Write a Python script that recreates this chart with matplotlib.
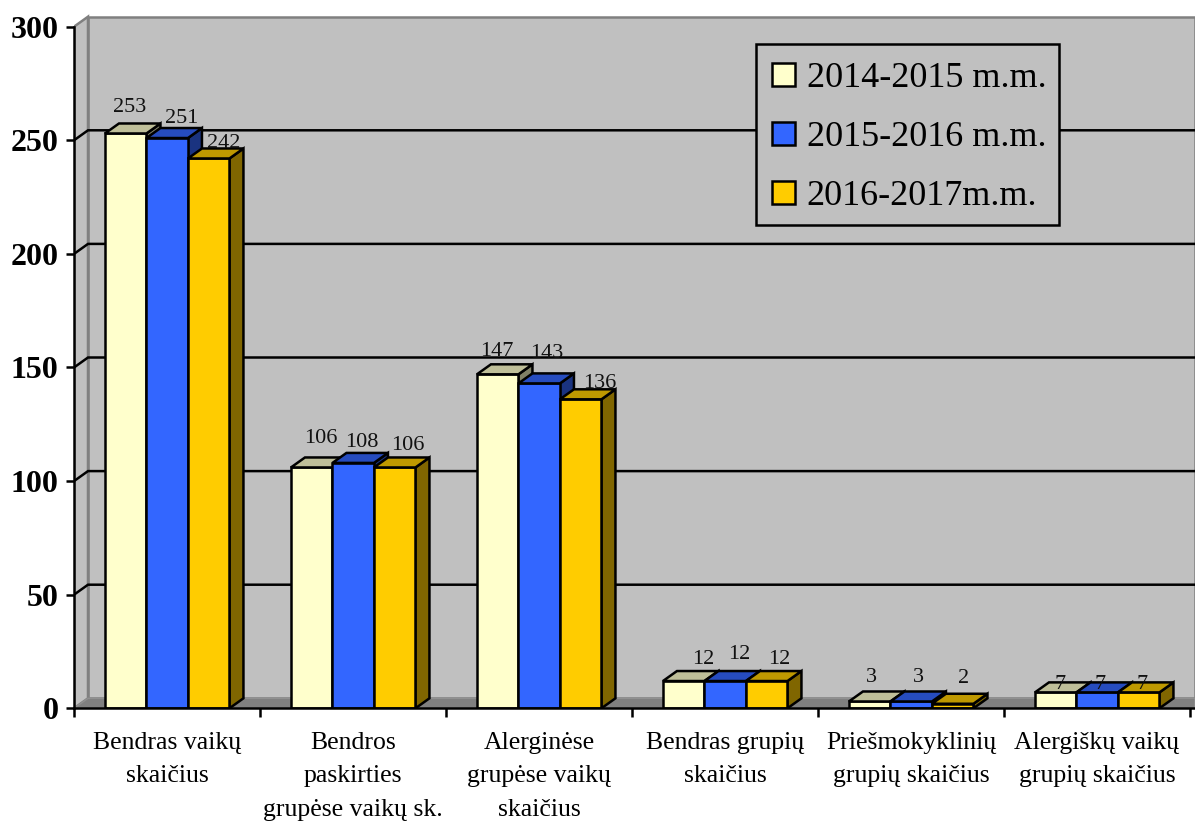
import matplotlib
matplotlib.use('Agg')
import matplotlib.pyplot as plt
from matplotlib.patches import Polygon, Rectangle

plt.rcParams['font.family'] = ['Liberation Serif', 'DejaVu Sans']

categories = ['Bendras vaikų\nskaičius',
              'Bendros\npaskirties\ngrupėse vaikų sk.',
              'Alerginėse\ngrupėse vaikų\nskaičius',
              'Bendras grupių\nskaičius',
              'Priešmokyklinių\ngrupių skaičius',
              'Alergiškų vaikų\ngrupių skaičius']
series_names = ['2014-2015 m.m.', '2015-2016 m.m.', '2016-2017m.m.']
v_2014 = [253, 106, 147, 12, 3, 7]
v_2015 = [251, 108, 143, 12, 3, 7]
v_2016 = [242, 106, 136, 12, 2, 7]
yticks = [0, 50, 100, 150, 200, 250, 300]

# front, top, side
colors = [('#FFFFCC', '#BFBF99', '#808066'),
          ('#3366FF', '#264CBF', '#1A3380'),
          ('#FFCC00', '#BF9900', '#806600')]

W, H = 1195, 821
Y0 = 708.3            # px row of the zero line
PX_X = 186.0          # px per category
PX_Y = 681.6 / 300.0  # px per unit
DX = 14 / PX_X        # depth of the 3d effect
DY = 10 / PX_Y
BAR = 41.5 / PX_X
SHIFT = 0.2 / PX_X
LW = 1.8

# label nudges in px from the bar top centre, the original labels were placed by hand
label_dx = [[4, 15, 15], [9, 9, 13], [-1, 8, 19], [20, 14, 13], [2, 7, 11], [5, 3, 4]]
label_dy = [[26, 20, 15], [29, 20, 22], [23, 30, 16], [22, 27, 22], [24, 24, 25], [8, 8, 8]]

fig = plt.figure(figsize=(W / 100, H / 100), dpi=100)
ax = fig.add_axes([74 / W, (H - Y0) / H, (W - 74) / W, Y0 / H])
xmax = (W - 74) / PX_X
ymax = Y0 / PX_Y
ax.set_xlim(0, xmax)
ax.set_ylim(0, ymax)
ax.patch.set_visible(False)

# walls and floor
ax.add_patch(Polygon([(DX, DY), (xmax, DY), (xmax, 300 + DY), (DX, 300 + DY)],
                     fc='#C0C0C0', ec='#808080', lw=1.8, zorder=1))
ax.add_patch(Polygon([(0, 0), (DX, DY), (DX, 300 + DY), (0, 300)],
                     fc='#C0C0C0', ec='#808080', lw=1.8, zorder=1))
ax.add_patch(Polygon([(0, 0), (DX, DY), (xmax, DY), (xmax, 0)],
                     fc='#808080', ec='#909090', lw=1, zorder=1))

for t in yticks[1:-1]:
    ax.plot([0, DX, xmax], [t, t + DY, t + DY], color='black', lw=LW, zorder=2,
            solid_joinstyle='miter')

x_centers = [i + 0.5 for i in range(len(categories))]
handles = []
for s, vals in enumerate([v_2014, v_2015, v_2016]):
    xs = [c + (s - 1) * BAR + SHIFT for c in x_centers]
    front, top, side = colors[s]
    b = ax.bar(xs, vals, width=BAR, color=front, edgecolor='black', linewidth=LW,
               label=series_names[s], zorder=3 + s * 3)
    handles.append(b)
    for x, v in zip(xs, vals):
        l, r = x - BAR / 2, x + BAR / 2
        ax.add_patch(Polygon([(l, v), (l + DX, v + DY), (r + DX, v + DY), (r, v)],
                             fc=top, ec='black', lw=LW, zorder=4 + s * 3,
                             joinstyle='miter'))
        ax.add_patch(Polygon([(r, 0), (r + DX, DY), (r + DX, v + DY), (r, v)],
                             fc=side, ec='black', lw=LW, zorder=2.5 + s * 3,
                             joinstyle='miter'))

for s, vals in enumerate([v_2014, v_2015, v_2016]):
    for i, v in enumerate(vals):
        x = x_centers[i] + (s - 1) * BAR
        ax.annotate(str(v), (x, v), xytext=(label_dx[i][s], label_dy[i][s]),
                    textcoords='offset pixels', ha='center', va='center',
                    fontsize=16, color='#111111', zorder=20)

# axes
for name in ['top', 'right']:
    ax.spines[name].set_visible(False)
ax.spines['left'].set_bounds(0, 300)
ax.spines['left'].set_linewidth(LW)
ax.spines['bottom'].set_linewidth(LW)
ax.spines['left'].set_zorder(15)
ax.spines['bottom'].set_zorder(15)

ax.set_yticks(yticks)
ax.set_yticklabels([str(t) for t in yticks], fontsize=23, fontweight='bold')
ax.tick_params(axis='y', length=5.8, width=LW, pad=5.5)

ax.set_xticks(range(0, 7))
ax.set_xticklabels([])
ax.tick_params(axis='x', which='major', length=6.5, width=LW)
ax.set_xticks(x_centers, minor=True)
ax.set_xticklabels(categories, minor=True, fontsize=18.5, linespacing=1.68)
ax.tick_params(axis='x', which='minor', length=0, pad=17)

# legend frame drawn apart so its size can match the original
ax.add_patch(Rectangle((756 / W, (H - 225) / H), 303 / W, 181 / H,
                       transform=fig.transFigure, fc='#C0C0C0', ec='black',
                       lw=LW, zorder=24))
leg = ax.legend(handles=handles, loc='upper left',
                bbox_to_anchor=(756 / W, (H - 46) / H), bbox_transform=fig.transFigure,
                fontsize=26, frameon=False,
                handlelength=0.62, handleheight=0.62, handletextpad=0.33,
                labelspacing=0.72, borderpad=0.45, borderaxespad=0)
leg.set_zorder(25)

fig.savefig('out.png', dpi=100)
